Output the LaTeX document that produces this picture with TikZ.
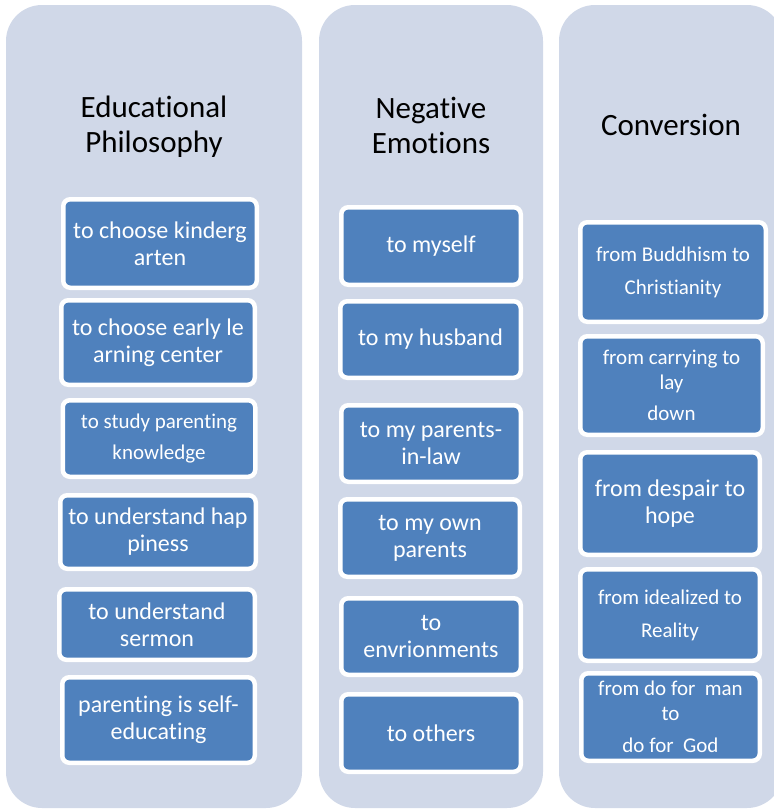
\documentclass[tikz,border=0pt]{standalone}
\usepackage{fontspec}
\setmainfont{Carlito}[RawFeature={-liga;-clig;-dlig;-calt}]
\definecolor{colbg}{HTML}{D0D8E8}
\definecolor{boxblue}{HTML}{4F81BD}
\begin{document}
\begin{tikzpicture}[x=1pt,y=-1pt,
  colbox/.style={fill=colbg, draw=none, rounded corners=36pt, inner sep=0pt},
  item/.style={fill=boxblue, draw=white, line width=4.5pt, rounded corners=7pt, text=white, align=center, inner sep=0pt},
  title/.style={align=center, text=black, font=\fontsize{31}{35}\selectfont},
  fbig/.style={font=\fontsize{24}{27}\selectfont},
  fsmall/.style={font=\fontsize{21}{25}\selectfont}]
\useasboundingbox (0,0) rectangle (774,809);
% columns
\node[colbox, minimum width=296, minimum height=803] (c1) at (154,406.5) {};
\node[colbox, minimum width=224, minimum height=803] (c2) at (431,406.5) {};
\node[colbox, minimum width=224, minimum height=803] (c3) at (671,406.5) {};
% titles
\node[title] (t1) at (154,127) {Educational\\Philosophy};
\node[title] (t2) at (431,125.5) {Negative\\Emotions};
\node[title] (t3) at (671,125) {Conversion};
% column 1
\node[item, fbig, minimum width=193.5, minimum height=88.5] (e1) at (160,243.5) {to choose kinderg\\arten};
\node[item, fbig, minimum width=193.5, minimum height=84.5] (e2) at (158,342.5) {to choose early le\\arning center};
\node[item, fsmall, minimum width=192.5, minimum height=76.5] (e3) at (159,438.5) {to study parenting\\[6pt]knowledge};
\node[item, fbig, minimum width=195.5, minimum height=73.5] (e4) at (158,532) {to understand hap\\piness};
\node[item, fbig, minimum width=195.5, minimum height=70.5] (e5) at (157,624.5) {to understand\\sermon};
\node[item, fbig, minimum width=192.5, minimum height=85.5] (e6) at (158.5,720) {parenting is self-\\educating};
% column 2
\node[item, fbig, minimum width=179.5, minimum height=77.5] (n1) at (431,246) {to myself};
\node[item, fbig, minimum width=180.5, minimum height=76.5] (n2) at (430.5,339.5) {to my husband};
\node[item, fbig, minimum width=179.5, minimum height=76.5] (n3) at (431,443.5) {to my parents-\\in-law};
\node[item, fbig, minimum width=179.5, minimum height=77.5] (n4) at (430,538) {to my own\\parents};
\node[item, fbig, minimum width=179.5, minimum height=76.5] (n5) at (431,636.5) {to\\envrionments};
\node[item, fbig, minimum width=179.5, minimum height=77.5] (n6) at (431,733) {to others};
% column 3
\node[item, fsmall, minimum width=185.5, minimum height=99.5] (v1) at (673,272) {from Buddhism to\\[8pt]Christianity};
\node[item, fsmall, minimum width=182.5, minimum height=98.5] (v2) at (671.5,385.5) {from carrying to\\lay\\[6pt]down};
\node[item, fbig, minimum width=179.5, minimum height=102.5] (v3) at (670,503.5) {from despair to\\hope};
\node[item, fsmall, minimum width=179.5, minimum height=91.5] (v4) at (670,615) {from idealized to\\[8pt]Reality};
\node[item, fsmall, minimum width=178.5, minimum height=87.5] (v5) at (670.5,717) {from do for\ \ man\\to\\[7pt]do for\ \ God};
\end{tikzpicture}
\end{document}
